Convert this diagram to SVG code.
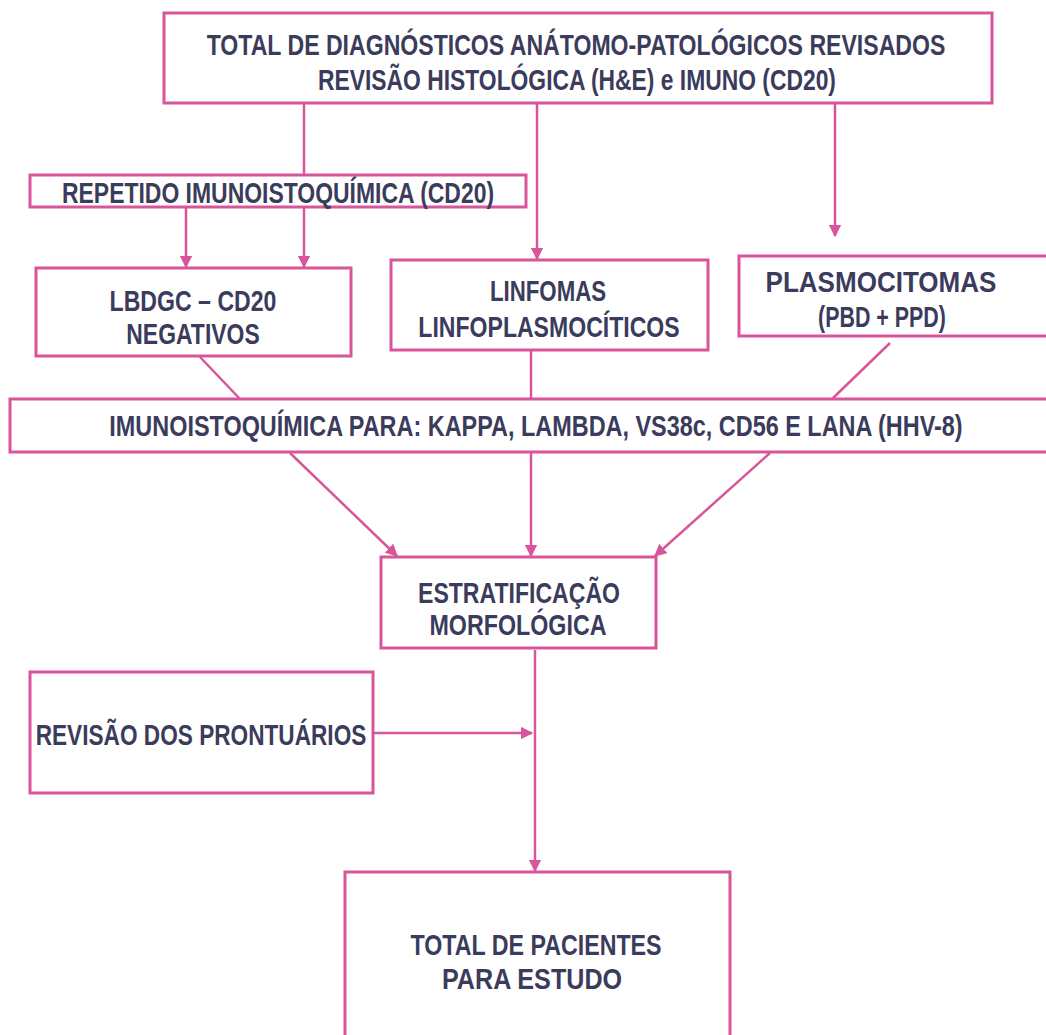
<svg xmlns="http://www.w3.org/2000/svg" width="1046" height="1035" viewBox="0 0 1046 1035">
<style>
.box{fill:#fff;stroke:#d9559b;stroke-width:3}
.ln{fill:none;stroke:#d9559b;stroke-width:2.5}
text{font-family:"Liberation Sans Narrow","Liberation Sans",Arial,sans-serif;font-weight:bold;font-size:29px;fill:#3b3c5c;text-anchor:middle}
</style>
<defs>
<marker id="ah" viewBox="0 0 10 10" refX="9" refY="5" markerWidth="5" markerHeight="5" orient="auto" markerUnits="strokeWidth">
<path d="M0,0 L10,5 L0,10 z" fill="#d9559b"/>
</marker>
</defs>
<rect width="1046" height="1035" fill="#fff"/>
<g id="connectors">
<line class="ln" x1="304" y1="103" x2="304" y2="175"/>
<line class="ln" x1="537" y1="103" x2="537" y2="259" marker-end="url(#ah)"/>
<line class="ln" x1="835" y1="103" x2="835" y2="236" marker-end="url(#ah)"/>
<line class="ln" x1="186" y1="207" x2="186" y2="267" marker-end="url(#ah)"/>
<line class="ln" x1="304" y1="207" x2="304" y2="267" marker-end="url(#ah)"/>
<line class="ln" x1="200" y1="357" x2="240" y2="399"/>
<line class="ln" x1="531" y1="350" x2="531" y2="399"/>
<line class="ln" x1="890" y1="343" x2="832" y2="399"/>
<line class="ln" x1="290" y1="453" x2="397" y2="556" marker-end="url(#ah)"/>
<line class="ln" x1="531" y1="453" x2="531" y2="556" marker-end="url(#ah)"/>
<line class="ln" x1="770" y1="453" x2="655" y2="556" marker-end="url(#ah)"/>
<line class="ln" x1="535" y1="650" x2="535" y2="871" marker-end="url(#ah)"/>
<line class="ln" x1="373" y1="733" x2="532" y2="733" marker-end="url(#ah)"/>
</g>
<g id="n-total-diag">
<rect class="box" x="164" y="13" width="828" height="90"/>
<text transform="translate(576,55) scale(0.78,1)" textLength="947" lengthAdjust="spacingAndGlyphs">TOTAL DE DIAGNÓSTICOS ANÁTOMO-PATOLÓGICOS REVISADOS</text>
<text transform="translate(577,90) scale(0.78,1)" textLength="664" lengthAdjust="spacingAndGlyphs">REVISÃO HISTOLÓGICA (H&amp;E) e IMUNO (CD20)</text>
</g>
<g id="n-repetido">
<rect class="box" x="30" y="175" width="496" height="32"/>
<text transform="translate(278,203) scale(0.78,1)" textLength="554" lengthAdjust="spacingAndGlyphs">REPETIDO IMUNOISTOQUÍMICA (CD20)</text>
</g>
<g id="n-lbdgc">
<rect class="box" x="36" y="268" width="315" height="88"/>
<text transform="translate(193,311) scale(0.78,1)" textLength="214" lengthAdjust="spacingAndGlyphs">LBDGC – CD20</text>
<text transform="translate(193,344) scale(0.78,1)" textLength="171" lengthAdjust="spacingAndGlyphs">NEGATIVOS</text>
</g>
<g id="n-linfomas">
<rect class="box" x="391" y="260" width="317" height="90"/>
<text transform="translate(548,301) scale(0.78,1)" textLength="149" lengthAdjust="spacingAndGlyphs">LINFOMAS</text>
<text transform="translate(549,337) scale(0.78,1)" textLength="335" lengthAdjust="spacingAndGlyphs">LINFOPLASMOCÍTICOS</text>
</g>
<g id="n-plasmocitomas">
<rect class="box" x="739" y="256" width="312" height="80"/>
<text transform="translate(881,292) scale(0.78,1)" textLength="296" lengthAdjust="spacingAndGlyphs">PLASMOCITOMAS</text>
<text transform="translate(882,327) scale(0.78,1)" textLength="164" lengthAdjust="spacingAndGlyphs">(PBD + PPD)</text>
</g>
<g id="n-imuno">
<rect class="box" x="10" y="399" width="1041" height="53"/>
<text transform="translate(536,436) scale(0.78,1)" textLength="1094" lengthAdjust="spacingAndGlyphs">IMUNOISTOQUÍMICA PARA:  KAPPA, LAMBDA, VS38c, CD56 E LANA (HHV-8)</text>
</g>
<g id="n-estratificacao">
<rect class="box" x="381" y="557" width="275" height="91"/>
<text transform="translate(519,603) scale(0.78,1)" textLength="259" lengthAdjust="spacingAndGlyphs">ESTRATIFICAÇÃO</text>
<text transform="translate(518,635) scale(0.78,1)" textLength="227" lengthAdjust="spacingAndGlyphs">MORFOLÓGICA</text>
</g>
<g id="n-revisao">
<rect class="box" x="30" y="672" width="343" height="121"/>
<text transform="translate(201,745) scale(0.78,1)" textLength="424" lengthAdjust="spacingAndGlyphs">REVISÃO DOS PRONTUÁRIOS</text>
</g>
<g id="n-total-pac">
<rect class="box" x="345" y="872" width="385" height="175"/>
<text transform="translate(536,955) scale(0.78,1)" textLength="322" lengthAdjust="spacingAndGlyphs">TOTAL DE PACIENTES</text>
<text transform="translate(532,989) scale(0.78,1)" textLength="231" lengthAdjust="spacingAndGlyphs">PARA ESTUDO</text>
</g>
</svg>
